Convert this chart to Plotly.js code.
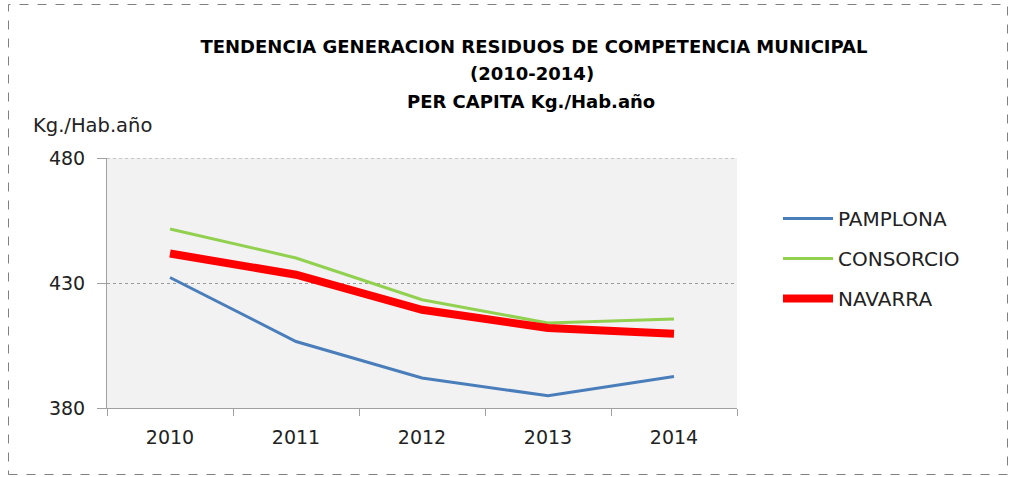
<!DOCTYPE html>
<html>
<head>
<meta charset="utf-8">
<script src="https://cdn.plot.ly/plotly-3.0.1.min.js"></script>
<style>
  html, body { margin: 0; padding: 0; background: #ffffff; }
  #chart { width: 1013px; height: 477px; }
</style>
</head>
<body>
<div id="chart"></div>
<script>
const years = ['2010', '2011', '2012', '2013', '2014'];
const pamplona = [432.2, 406.6, 392.0, 384.9, 392.6];
const consorcio = [451.6, 440.0, 423.3, 414.0, 415.6];
const navarra = [441.8, 433.3, 419.3, 412.0, 409.7];
const seriesNames = ['PAMPLONA', 'CONSORCIO', 'NAVARRA'];
const titleLines = ['TENDENCIA GENERACION RESIDUOS DE COMPETENCIA MUNICIPAL', '(2010-2014)', 'PER CAPITA Kg./Hab.año'];
const yAxisLabel = 'Kg./Hab.año';
const yTicks = [380, 430, 480];

const FONT = 'DejaVu Sans, Liberation Sans, sans-serif';

const traces = [
  { x: years, y: pamplona, name: seriesNames[0], legendgroup: 'a', type: 'scatter', mode: 'lines',
    line: { color: '#4a7ebb', width: 3 } },
  { x: years, y: consorcio, name: seriesNames[1], legendgroup: 'b', type: 'scatter', mode: 'lines',
    line: { color: '#92d050', width: 3 } },
  { x: years, y: navarra, name: seriesNames[2], legendgroup: 'c', type: 'scatter', mode: 'lines',
    line: { color: '#ff0000', width: 8 } }
];

const L = 107, R = 737, T = 158, B = 408;
const W = R - L, H = B - T;
const px = v => (v - L) / W;
const py = v => (B - v) / H;

const layout = {
  width: 1013, height: 477,
  margin: { l: L, r: 1013 - R, t: T, b: 477 - B, pad: 0 },
  paper_bgcolor: '#ffffff',
  plot_bgcolor: '#f2f2f2',
  font: { family: FONT, size: 19, color: '#222222' },
  title: {
    text: '<b>' + titleLines[0] + '</b>',
    font: { family: FONT, size: 18, color: '#000000' },
    x: 534 / 1013, xanchor: 'center', xref: 'container',
    y: 1 - 46.5 / 477, yanchor: 'middle', yref: 'container'
  },
  annotations: [
    { text: '<b>' + titleLines[1] + '</b>', xref: 'paper', yref: 'paper', x: px(532), y: py(74),
      xanchor: 'center', yanchor: 'middle', showarrow: false,
      font: { family: FONT, size: 18, color: '#000000' } },
    { text: '<b>' + titleLines[2] + '</b>', xref: 'paper', yref: 'paper', x: px(531), y: py(101),
      xanchor: 'center', yanchor: 'middle', showarrow: false,
      font: { family: FONT, size: 18, color: '#000000' } },
    { text: yAxisLabel, xref: 'paper', yref: 'paper', x: px(31), y: py(125),
      xanchor: 'left', yanchor: 'middle', showarrow: false,
      font: { family: FONT, size: 19.5, color: '#222222' } }
  ],
  xaxis: {
    type: 'category',
    range: [-0.5, 4.5],
    tickson: 'boundaries',
    ticks: 'outside', ticklen: 7, tickcolor: '#a0a0a0', tickwidth: 1,
    ticklabelstandoff: 12,
    showline: true, linecolor: '#a0a0a0', linewidth: 1,
    showgrid: false, zeroline: false,
    tickfont: { family: FONT, size: 19, color: '#222222' },
    fixedrange: true
  },
  yaxis: {
    range: [380, 480],
    tickvals: yTicks,
    ticks: 'outside', ticklen: 9, tickcolor: '#a0a0a0', tickwidth: 1,
    ticklabelstandoff: 8,
    showline: true, linecolor: '#a0a0a0', linewidth: 1,
    showgrid: true, gridcolor: '#9a9a9a', griddash: 'dot', gridwidth: 1,
    zeroline: false,
    tickfont: { family: FONT, size: 19, color: '#222222' },
    fixedrange: true
  },
  showlegend: true,
  legend: {
    x: px(778), xanchor: 'left',
    y: py(199), yanchor: 'top',
    font: { family: FONT, size: 20, color: '#222222' },
    tracegroupgap: 11,
    itemwidth: 50,
    bgcolor: 'rgba(0,0,0,0)'
  },
  shapes: [
    { type: 'line', xref: 'paper', yref: 'y', x0: 0, x1: 1, y0: 480, y1: 480,
      line: { color: '#9a9a9a', width: 1, dash: 'dot' }, layer: 'below' },
    { type: 'rect', xref: 'paper', yref: 'paper',
      x0: px(8.5), x1: px(1007.5), y0: py(474.5), y1: py(4.5),
      line: { color: '#808080', width: 1, dash: 'dash' }, fillcolor: 'rgba(0,0,0,0)', layer: 'above' }
  ]
};

Plotly.newPlot('chart', traces, layout, { displayModeBar: false, staticPlot: true });
</script>
</body>
</html>
